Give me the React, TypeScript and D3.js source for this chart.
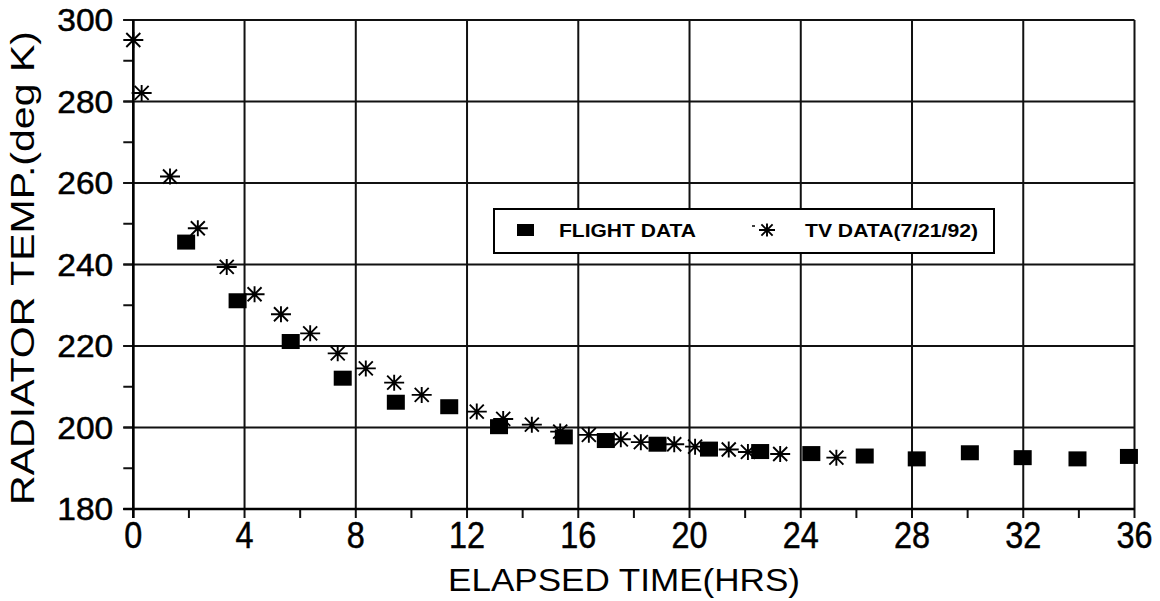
import React from "react";
import * as d3 from "d3";

const flightHours = [1.9, 3.75, 5.66, 7.53, 9.44, 11.36, 13.15, 15.48, 16.99, 18.85, 20.7, 22.54, 24.38, 26.3, 28.17, 30.08, 31.98, 33.95, 35.8];
const flightTemps = [245.5, 231.1, 221.1, 212.1, 206.2, 205.1, 200.2, 197.7, 196.8, 195.9, 194.7, 194.1, 193.6, 193.0, 192.3, 193.8, 192.6, 192.3, 192.9];

const tvHours = [0, 0.3, 1.32, 2.32, 3.36, 4.36, 5.31, 6.36, 7.35, 8.36, 9.38, 10.37, 12.35, 13.3, 14.33, 15.35, 16.38, 17.53, 18.25, 19.45, 20.2, 21.41, 22.1, 23.26, 25.28];
const tvTemps = [295.1, 282.1, 261.6, 248.9, 239.4, 232.7, 227.8, 223.1, 218.2, 214.5, 211.0, 208.0, 203.9, 202.1, 200.7, 199.0, 198.2, 197.1, 196.4, 195.9, 195.3, 194.6, 194.0, 193.5, 192.6];

const xTicks = [0, 4, 8, 12, 16, 20, 24, 28, 32, 36];
const xMinorTicks = d3.range(0, 37, 2);
const yTicks = [180, 200, 220, 240, 260, 280, 300];
const yMinorTicks = d3.range(180, 301, 10);

const seriesNames = ["FLIGHT DATA", "TV DATA(7/21/92)"];
const xTitle = "ELAPSED TIME(HRS)";
const yTitle = "RADIATOR TEMP.(deg K)";

const W = 1160;
const H = 601;
const x = d3.scaleLinear().domain([0, 36]).range([133.3, 1134.5]);
const y = d3.scaleLinear().domain([180, 300]).range([509, 20]);

const FONT = "'Liberation Sans', Arial, Helvetica, sans-serif";

function Asterisk({ cx, cy, s = 1 }: { cx: number; cy: number; s?: number }) {
  const p = `M${-10 * s},0L${10 * s},0M${-7 * s},${-7 * s}L${7 * s},${7 * s}M${-7 * s},${7 * s}L${7 * s},${-7 * s}M0,${-8 * s}L0,${8 * s}`;
  return <path d={p} transform={`translate(${cx},${cy})`} stroke="#000" strokeWidth={1.9} fill="none" />;
}

export default function App() {
  const [x0, x1] = x.range();
  const [y0, y1] = y.range();
  return (
    <svg width={W} height={H} style={{ position: "absolute", left: 0, top: 0, background: "#fff" }}>
      <rect x={0} y={0} width={W} height={H} fill="#fff" />
      {xTicks.map((t) => (
        <line key={"gx" + t} x1={x(t)} x2={x(t)} y1={y1} y2={y0} stroke="#111" strokeWidth={2} />
      ))}
      {yTicks.map((t) => (
        <line key={"gy" + t} x1={x0 - 10} x2={x1} y1={y(t)} y2={y(t)} stroke="#111" strokeWidth={2} />
      ))}
      {yMinorTicks.map((t) => (
        <line key={"my" + t} x1={x0 - 10} x2={x0} y1={y(t)} y2={y(t)} stroke="#111" strokeWidth={2} />
      ))}
      {xMinorTicks.map((t) => (
        <line key={"mx" + t} x1={x(t)} x2={x(t)} y1={y0} y2={y0 + 9} stroke="#111" strokeWidth={2} />
      ))}
      <line x1={x0} x2={x0} y1={y1} y2={y0 + 9} stroke="#000" strokeWidth={2.5} />
      <line x1={x0 - 10} x2={x1} y1={y0} y2={y0} stroke="#000" strokeWidth={2.5} />

      {yTicks.map((t) => (
        <text key={"ly" + t} x={x0 - 20} y={y(t) + 11} textAnchor="end" fontFamily={FONT} fontSize={31}
          textLength={56} lengthAdjust="spacingAndGlyphs" fill="#000" stroke="#000" strokeWidth={0.5}>{t}</text>
      ))}
      {xTicks.map((t) => (
        <text key={"lx" + t} x={x(t)} y={548} textAnchor="middle" fontFamily={FONT} fontSize={37}
          textLength={String(t).length * 18} lengthAdjust="spacingAndGlyphs" fill="#000" stroke="#000" strokeWidth={0.5}>{t}</text>
      ))}

      <text x={624} y={591} textAnchor="middle" fontFamily={FONT} fontSize={32}
        textLength={352} lengthAdjust="spacingAndGlyphs" fill="#000">{xTitle}</text>
      <text transform={`translate(34,268) rotate(-90)`} textAnchor="middle" fontFamily={FONT} fontSize={33}
        textLength={474} lengthAdjust="spacingAndGlyphs" fill="#000">{yTitle}</text>

      {tvHours.map((h, i) => (
        <Asterisk key={"tv" + i} cx={x(h)} cy={y(tvTemps[i])} />
      ))}
      {flightHours.map((h, i) => (
        <rect key={"fl" + i} x={x(h) - 9} y={y(flightTemps[i]) - 7.5} width={18} height={15} fill="#000" />
      ))}

      <rect x={494} y={209} width={500} height={44} fill="#fff" stroke="#000" strokeWidth={2} />
      <rect x={517} y={224} width={17} height={12} fill="#000" />
      <text x={559} y={237} fontFamily={FONT} fontSize={19} fontWeight="bold" textLength={137}
        lengthAdjust="spacingAndGlyphs" fill="#000">{seriesNames[0]}</text>
      <line x1={752} x2={755} y1={226} y2={226} stroke="#000" strokeWidth={1.5} />
      <Asterisk cx={767} cy={230} s={0.8} />
      <text x={805} y={237} fontFamily={FONT} fontSize={19} fontWeight="bold" textLength={173}
        lengthAdjust="spacingAndGlyphs" fill="#000">{seriesNames[1]}</text>
    </svg>
  );
}
